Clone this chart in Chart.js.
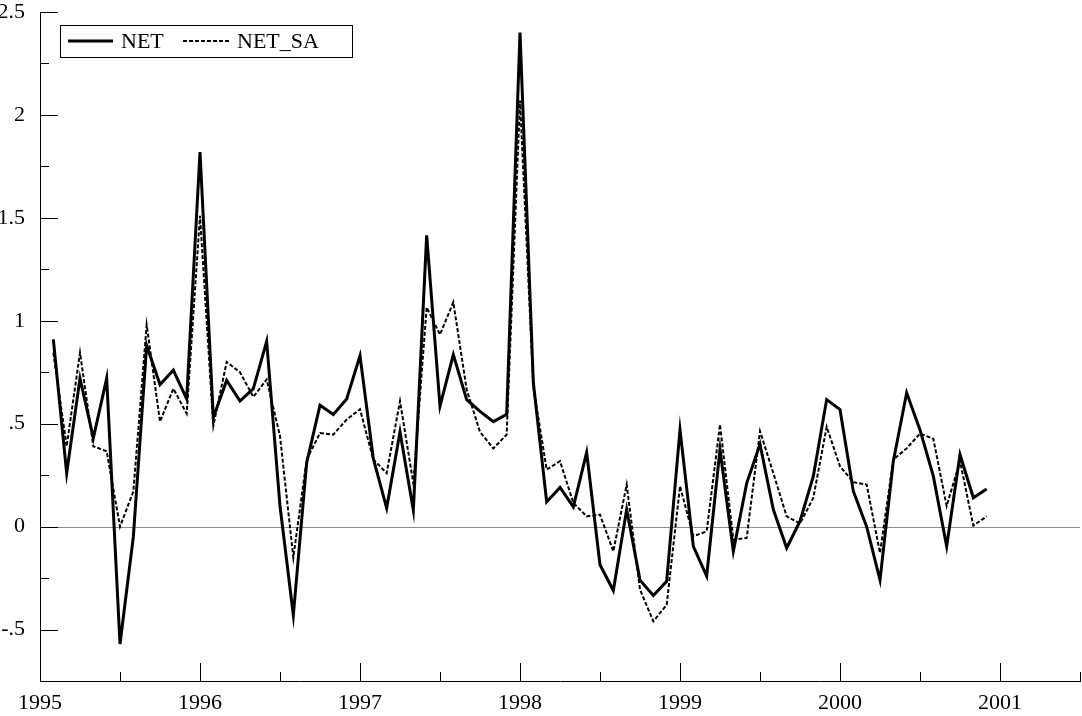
<!DOCTYPE html>
<html>
<head>
<meta charset="utf-8">
<script src="https://cdn.jsdelivr.net/npm/chart.js@4.4.1/dist/chart.umd.min.js"></script>
<style>
  html, body { margin: 0; padding: 0; background: #fff; }
  #wrap { width: 1082px; height: 716px; }
</style>
</head>
<body>
<div id="wrap"><canvas id="chart" width="1082" height="716"></canvas></div>
<script>
// monthly series, first point one month after the start of 1995
const startYear = 1995;
const seriesNames = ['NET', 'NET_SA'];

const net = [
  0.91, 0.26, 0.72, 0.43, 0.72, -0.57, -0.05, 0.88, 0.69, 0.76, 0.62, 1.82,
  0.53, 0.71, 0.61, 0.67, 0.90, 0.10, -0.43, 0.31, 0.59, 0.545, 0.62, 0.83,
  0.33, 0.09, 0.46, 0.08, 1.415, 0.585, 0.836, 0.617, 0.56, 0.51, 0.545, 2.40,
  0.70, 0.12, 0.19, 0.096, 0.36, -0.185, -0.31, 0.083, -0.26, -0.335, -0.266, 0.47,
  -0.096, -0.24, 0.374, -0.12, 0.21, 0.40, 0.083, -0.104, 0.026, 0.245, 0.617, 0.569,
  0.172, 0.0, -0.26, 0.318, 0.65, 0.47, 0.245, -0.096, 0.35, 0.14, 0.183
];

const netSa = [
  0.845, 0.39, 0.845, 0.39, 0.366, 0.0, 0.17, 0.98, 0.51, 0.67, 0.55, 1.51,
  0.49, 0.80, 0.75, 0.63, 0.715, 0.44, -0.15, 0.326, 0.455, 0.447, 0.52, 0.57,
  0.326, 0.26, 0.61, 0.21, 1.065, 0.933, 1.09, 0.666, 0.46, 0.38, 0.447, 2.07,
  0.68, 0.277, 0.318, 0.115, 0.05, 0.058, -0.12, 0.204, -0.306, -0.46, -0.38, 0.196,
  -0.047, -0.023, 0.496, -0.063, -0.055, 0.464, 0.26, 0.05, 0.015, 0.14, 0.485, 0.293,
  0.216, 0.204, -0.128, 0.326, 0.38, 0.452, 0.426, 0.1, 0.318, 0.005, 0.05
];

const yTickLabels = { '2.5': '2.5', '2': '2', '1.5': '1.5', '1': '1', '0.5': '.5', '0': '0', '-0.5': '-.5' };

const fontFam = '"Liberation Serif", "Times New Roman", serif';

function toPoints(values) {
  return values.map((v, i) => ({ x: startYear + (i + 1) / 12, y: v }));
}

// inward tick marks, zero line and boxed legend
const decorPlugin = {
  id: 'decor',
  beforeDatasetsDraw(chart) {
    const ctx = chart.ctx, a = chart.chartArea;
    const y0 = chart.scales.y.getPixelForValue(0);
    ctx.save();
    ctx.strokeStyle = '#8c8c8c';
    ctx.lineWidth = 1;
    ctx.beginPath();
    ctx.moveTo(a.left, Math.round(y0) + 0.5);
    ctx.lineTo(a.right, Math.round(y0) + 0.5);
    ctx.stroke();
    ctx.restore();
  },
  afterDraw(chart) {
    const ctx = chart.ctx, a = chart.chartArea;
    const xs = chart.scales.x, ys = chart.scales.y;
    ctx.save();
    ctx.strokeStyle = '#000';
    ctx.lineWidth = 1;
    ctx.beginPath();
    ys.ticks.forEach(t => {
      const py = Math.round(ys.getPixelForValue(t.value)) + 0.5;
      const major = Math.abs(t.value * 2 - Math.round(t.value * 2)) < 1e-6;
      ctx.moveTo(a.left, py);
      ctx.lineTo(a.left + (major ? 18 : 9), py);
    });
    xs.ticks.forEach(t => {
      const px = Math.round(xs.getPixelForValue(t.value)) + 0.5;
      const major = Math.abs(t.value - Math.round(t.value)) < 1e-6;
      ctx.moveTo(px, a.bottom);
      ctx.lineTo(px, a.bottom - (major ? 18 : 9));
    });
    ctx.stroke();

    // legend
    ctx.strokeRect(60.5, 25.5, 292, 32);
    ctx.font = '22px ' + fontFam;
    ctx.fillStyle = '#000';
    ctx.textBaseline = 'middle';
    const ds = chart.data.datasets;
    const items = [{ x: 68, w: 45 }, { x: 183, w: 46 }];
    items.forEach((it, i) => {
      const d = ds[i];
      ctx.save();
      ctx.lineWidth = d.borderWidth;
      ctx.setLineDash(d.borderDash || []);
      ctx.beginPath();
      ctx.moveTo(it.x, 41);
      ctx.lineTo(it.x + it.w, 41);
      ctx.stroke();
      ctx.restore();
      ctx.fillText(d.label, it.x + it.w + 8, 42);
    });
    ctx.restore();
  }
};

new Chart(document.getElementById('chart'), {
  type: 'line',
  data: {
    datasets: [
      {
        label: seriesNames[0],
        data: toPoints(net),
        borderColor: '#000',
        borderWidth: 3,
        borderJoinStyle: 'miter',
        pointRadius: 0,
        tension: 0,
        order: 1
      },
      {
        label: seriesNames[1],
        data: toPoints(netSa),
        borderColor: '#000',
        borderWidth: 2,
        borderDash: [4, 2],
        borderJoinStyle: 'miter',
        pointRadius: 0,
        tension: 0,
        order: 0
      }
    ]
  },
  options: {
    responsive: false,
    animation: false,
    layout: { padding: { top: 12, right: 2, left: 0, bottom: 0 } },
    plugins: { legend: { display: false }, tooltip: { enabled: false } },
    scales: {
      x: {
        type: 'linear',
        min: 1995,
        max: 2001.5,
        grid: { display: false },
        border: { display: true, color: '#000', width: 1 },
        afterFit(scale) {
          scale.height = 35;
          scale.paddingLeft = 0;
          scale.paddingRight = 0;
        },
        ticks: {
          stepSize: 0.5,
          autoSkip: false,
          maxRotation: 0,
          padding: 1,
          color: '#000',
          font: { family: fontFam, size: 22 },
          callback: v => (Math.abs(v - Math.round(v)) < 1e-6 ? String(Math.round(v)) : '')
        }
      },
      y: {
        min: -0.75,
        max: 2.5,
        grid: { display: false },
        border: { display: true, color: '#000', width: 1 },
        afterFit(scale) {
          scale.width = 40;
          scale.paddingTop = 0;
          scale.paddingBottom = 0;
        },
        ticks: {
          stepSize: 0.25,
          autoSkip: false,
          padding: 7,
          color: '#000',
          font: { family: fontFam, size: 22 },
          callback: v => yTickLabels[String(v)] || ''
        }
      }
    }
  },
  plugins: [decorPlugin]
});
</script>
</body>
</html>
